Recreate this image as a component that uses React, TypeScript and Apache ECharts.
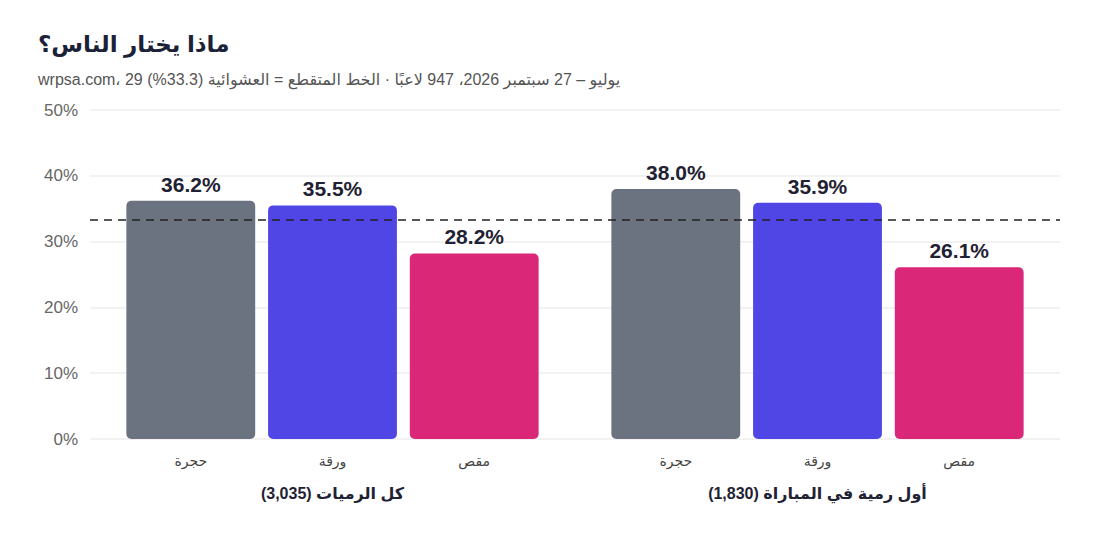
import { useEffect, useRef } from 'react';
import * as echarts from 'echarts';

const groups = ['كل الرميات (3,035)', 'أول رمية في المباراة (1,830)'];
const moves = ['حجرة', 'ورقة', 'مقص'];
const moveColors = ['#6b7280', '#4f46e5', '#db2777'];
const rockPct = [36.2, 38.0];
const paperPct = [35.5, 35.9];
const scissorsPct = [28.2, 26.1];
const randomLine = 33.3;
const yTicks = [0, 10, 20, 30, 40, 50];

const FONT = "'Liberation Sans', 'DejaVu Sans', Arial, sans-serif";

export default function App() {
  const ref = useRef<HTMLDivElement>(null);

  useEffect(() => {
    document.body.style.margin = '0';
    if (!ref.current) return;
    const chart = echarts.init(ref.current, null, { renderer: 'svg' });
    const values = [rockPct, paperPct, scissorsPct];

    const barCommon = {
      type: 'bar' as const,
      barGap: '10%',
      barCategoryGap: '15%',
    };

    const mainSeries = moves.map((name, i) => ({
      ...barCommon,
      name,
      xAxisIndex: 0,
      data: values[i],
      itemStyle: { color: moveColors[i], borderRadius: 5 },
      label: {
        show: true,
        position: 'top',
        distance: 6,
        fontFamily: FONT,
        fontSize: 21,
        fontWeight: 'bold',
        color: '#1f2233',
        formatter: (p: any) => `${Number(p.value).toFixed(1)}%`,
      },
      markLine: i === 0 ? {
        silent: true,
        symbol: 'none',
        label: { show: false },
        lineStyle: { type: [8, 6], color: '#222', width: 1.5 },
        data: [{ yAxis: randomLine }],
      } : undefined,
    }));

    // invisible copies on a hidden axis, only to put the move name under each bar
    const nameSeries = moves.map((name, i) => ({
      ...barCommon,
      name: name + ' ',
      xAxisIndex: 1,
      silent: true,
      data: values[i],
      itemStyle: { color: 'transparent' },
      label: {
        show: true,
        position: 'bottom',
        distance: 15,
        fontFamily: FONT,
        fontSize: 14,
        color: '#444',
        formatter: () => name,
      },
    }));

    chart.setOption({
      animation: false,
      backgroundColor: '#fff',
      title: {
        text: 'ماذا يختار الناس؟',
        subtext: 'wrpsa.com، 29 يوليو – 27 سبتمبر 2026، 947 لاعبًا · الخط المتقطع = العشوائية (33.3%)',
        left: 33,
        top: 27,
        itemGap: 16,
        textStyle: { fontFamily: FONT, fontSize: 23, fontWeight: 'bold', color: '#1b2238' },
        subtextStyle: { fontFamily: FONT, fontSize: 16, color: '#555' },
      },
      grid: { left: 90, right: 40, top: 110, bottom: 121 },
      xAxis: [
        {
          type: 'category',
          data: groups,
          axisLine: { show: false },
          axisTick: { show: false },
          axisLabel: {
            margin: 46,
            fontFamily: FONT,
            fontSize: 16,
            fontWeight: 'bold',
            color: '#1f2233',
          },
        },
        { type: 'category', data: groups, show: false },
      ],
      yAxis: {
        type: 'value',
        min: yTicks[0],
        max: yTicks[yTicks.length - 1],
        interval: 10,
        axisLine: { show: false },
        axisTick: { show: false },
        axisLabel: {
          margin: 12,
          fontFamily: FONT,
          fontSize: 17,
          color: '#666',
          formatter: '{value}%',
        },
        splitLine: { lineStyle: { color: '#eeeeee', width: 1.5 } },
      },
      series: [...mainSeries, ...nameSeries],
    });

    return () => chart.dispose();
  }, []);

  return <div ref={ref} style={{ width: 1100, height: 560 }} />;
}
